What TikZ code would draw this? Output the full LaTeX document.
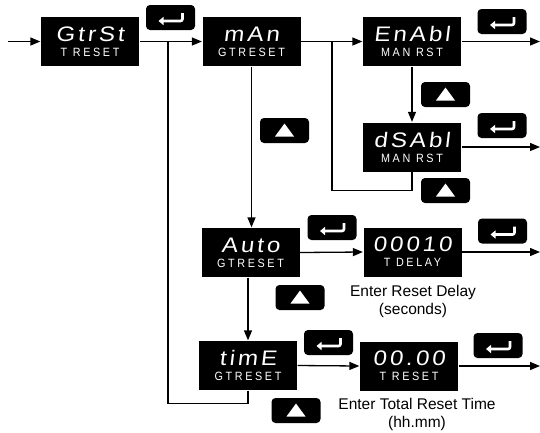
\documentclass[tikz,border=0pt]{standalone}
\usepackage{fontspec}
\setmainfont{Liberation Sans}
\newfontfamily\lcdbig[FakeStretch=1.15, FakeSlant=0.12, LetterSpace=14]{Liberation Sans}
\newfontfamily\lcdsmall[FakeStretch=0.9, LetterSpace=22]{Liberation Sans}
\usetikzlibrary{arrows.meta, positioning}

\newcommand{\lcd}[2]{{\lcdbig\fontsize{21}{21}\selectfont #1}\\[3pt]{\lcdsmall\fontsize{12}{13}\selectfont #2}}

\tikzset{
  disp/.style={fill=black, text=white, minimum width=98pt, minimum height=49pt,
    inner sep=0pt, align=center},
  key/.style={fill=black, rounded corners=4pt, minimum width=49pt,
    minimum height=25pt, inner sep=0pt},
  entkey/.style={key, path picture={
    \draw[white, line width=2.6pt, rounded corners=2pt, -{Triangle[length=5pt,width=8pt]}]
      ([shift={(12pt,4.5pt)}]path picture bounding box.center)
      -- ([shift={(12pt,-3.5pt)}]path picture bounding box.center)
      -- ([shift={(-12pt,-3.5pt)}]path picture bounding box.center);}},
  upkey/.style={key, path picture={
    \fill[white, sharp corners]
      ([shift={(-9.5pt,-6pt)}]path picture bounding box.center)
      -- ([shift={(9.5pt,-6pt)}]path picture bounding box.center)
      -- ([shift={(0pt,7pt)}]path picture bounding box.center) -- cycle;}},
  note/.style={font=\fontsize{15.5}{18}\selectfont, align=center}
}

\begin{document}
\begin{tikzpicture}[>={Triangle[length=10pt,width=8pt]}, x=1pt, y=-1pt, line width=1.3pt]

    % =================================================================
    % 1. KHUNG HINH
    % =================================================================
    \useasboundingbox (0,0) rectangle (540,432);

    % =================================================================
    % 2. CAC MAN HINH HIEN THI
    % =================================================================
    \node[disp] (gtrst) at (90,41.5)    {\lcd{GtrSt}{T RESET}};
    \node[disp] (man)   at (251.5,41.5) {\lcd{mAn}{GTRESET}};
    \node[disp] (enabl) at (412,41.5)   {\lcd{EnAbl}{MAN RST}};
    \node[disp] (dsabl) at (412,147)    {\lcd{dSAbl}{MAN RST}};
    \node[disp] (auto)  at (250.5,252.5){\lcd{Auto}{GTRESET}};
    \node[disp] (delay) at (412.5,252)  {\lcd{00010}{T DELAY}};
    \node[disp] (time)  at (248,365.5)  {\lcd{timE}{GTRESET}};
    \node[disp] (tot)   at (409,366)    {\lcd{00.00}{T RESET}};

    % =================================================================
    % 3. CAC PHIM BAM
    % =================================================================
    \node[entkey] (ent1) at (170.5,17.5) {};
    \node[entkey] (ent2) at (502,21.5)   {};
    \node[upkey]  (up1)  at (445.5,94.5) {};
    \node[entkey] (ent3) at (502,125.5)  {};
    \node[upkey]  (up2)  at (445.5,190.5){};
    \node[upkey]  (up3)  at (284.5,130.5){};
    \node[entkey] (ent4) at (332,227.5)  {};
    \node[entkey] (ent5) at (502.5,231)  {};
    \node[upkey]  (up4)  at (300,297.5)  {};
    \node[entkey] (ent6) at (328.5,342.5){};
    \node[entkey] (ent7) at (498,345.5)  {};
    \node[upkey]  (up5)  at (296,410.5)  {};

    % =================================================================
    % 4. GHI CHU
    % =================================================================
    \node[note] (ndelay) at (413,301) {Enter Reset Delay\\(seconds)};
    \node[note] (ntot)   at (417,414) {Enter Total Reset Time\\(hh.mm)};

    % =================================================================
    % 5. CAC DUONG NOI VA MUI TEN
    % =================================================================
    \coordinate (in)   at (8,41.5);
    \coordinate (j1)   at (168,41.5);
    \coordinate (j2)   at (332,41.5);
    \coordinate (out1) at (540,41.5);
    \coordinate (out2) at (540,147);
    \coordinate (out3) at (540,252);
    \coordinate (out4) at (540,366);

    \draw[->] (in) -- (gtrst.west);
    \draw[->] (gtrst.east) -- (man.west);
    \draw[->] (man.east) -- (enabl.west);
    \draw[->] (enabl.east) -- (out1);
    \draw[->] (enabl.south) -- (dsabl.north);
    \draw[->] (dsabl.east) -- (out2);
    \draw (dsabl.south) -- ++(0,18) -| (j2);

    \draw[->] (man.south) -- (man.south |- auto.north);
    \draw[->] (auto.east) -- (delay.west);
    \draw[->] (delay.east) -- (out3);
    \draw[->] (auto.south -| time.north) -- (time.north);
    \draw[->] (time.east) -- (tot.west);
    \draw[->] (tot.east) -- (out4);
    \draw (time.south) -- ++(0,13) -| (j1);

\end{tikzpicture}
\end{document}
